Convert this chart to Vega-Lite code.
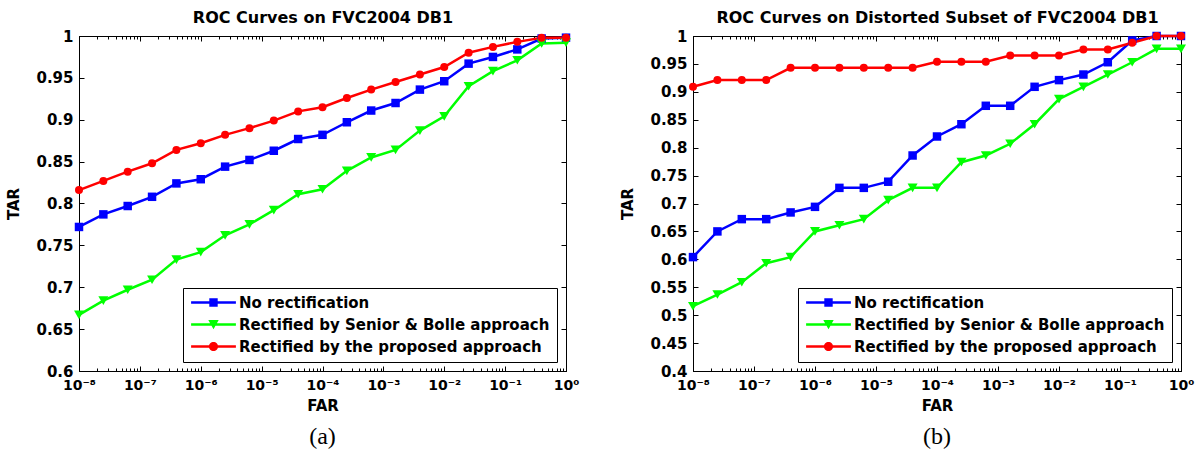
{
  "$schema": "https://vega.github.io/schema/vega-lite/v6.json",
  "background": "white",
  "padding": {"left": 6, "top": 9, "right": 5, "bottom": 5},
  "bounds": "flush",
  "spacing": 127,
  "config": {
    "view": {"stroke": "black", "strokeWidth": 1},
    "axis": {
      "labelFont": "DejaVu Sans", "labelFontWeight": "bold", "labelFontSize": 15, "labelColor": "black",
      "titleFont": "DejaVu Sans", "titleFontWeight": "bold", "titleFontSize": 15, "titleColor": "black",
      "domainColor": "black", "tickColor": "black", "grid": false, "labelOverlap": false, "labelFlush": false
    },
    "title": {"font": "Liberation Serif", "fontSize": 24, "fontWeight": "normal", "color": "black"}
  },
  "datasets": {
    "a": [
      {"far": 1e-8, "series": "No rectification", "tar": 0.772},
      {"far": 2.512e-8, "series": "No rectification", "tar": 0.787},
      {"far": 6.31e-8, "series": "No rectification", "tar": 0.797},
      {"far": 1.585e-7, "series": "No rectification", "tar": 0.808},
      {"far": 3.981e-7, "series": "No rectification", "tar": 0.824},
      {"far": 1e-6, "series": "No rectification", "tar": 0.829},
      {"far": 2.512e-6, "series": "No rectification", "tar": 0.844},
      {"far": 6.31e-6, "series": "No rectification", "tar": 0.852},
      {"far": 1.585e-5, "series": "No rectification", "tar": 0.863},
      {"far": 3.981e-5, "series": "No rectification", "tar": 0.877},
      {"far": 1e-4, "series": "No rectification", "tar": 0.882},
      {"far": 2.512e-4, "series": "No rectification", "tar": 0.897},
      {"far": 6.31e-4, "series": "No rectification", "tar": 0.911},
      {"far": 1.585e-3, "series": "No rectification", "tar": 0.920},
      {"far": 3.981e-3, "series": "No rectification", "tar": 0.936},
      {"far": 0.01, "series": "No rectification", "tar": 0.946},
      {"far": 0.02512, "series": "No rectification", "tar": 0.967},
      {"far": 0.0631, "series": "No rectification", "tar": 0.975},
      {"far": 0.1585, "series": "No rectification", "tar": 0.984},
      {"far": 0.3981, "series": "No rectification", "tar": 0.997},
      {"far": 1, "series": "No rectification", "tar": 0.998},
      {"far": 1e-8, "series": "Rectified by Senior & Bolle approach", "tar": 0.667},
      {"far": 2.512e-8, "series": "Rectified by Senior & Bolle approach", "tar": 0.684},
      {"far": 6.31e-8, "series": "Rectified by Senior & Bolle approach", "tar": 0.697},
      {"far": 1.585e-7, "series": "Rectified by Senior & Bolle approach", "tar": 0.709},
      {"far": 3.981e-7, "series": "Rectified by Senior & Bolle approach", "tar": 0.733},
      {"far": 1e-6, "series": "Rectified by Senior & Bolle approach", "tar": 0.742},
      {"far": 2.512e-6, "series": "Rectified by Senior & Bolle approach", "tar": 0.762},
      {"far": 6.31e-6, "series": "Rectified by Senior & Bolle approach", "tar": 0.775},
      {"far": 1.585e-5, "series": "Rectified by Senior & Bolle approach", "tar": 0.792},
      {"far": 3.981e-5, "series": "Rectified by Senior & Bolle approach", "tar": 0.811},
      {"far": 1e-4, "series": "Rectified by Senior & Bolle approach", "tar": 0.817},
      {"far": 2.512e-4, "series": "Rectified by Senior & Bolle approach", "tar": 0.839},
      {"far": 6.31e-4, "series": "Rectified by Senior & Bolle approach", "tar": 0.855},
      {"far": 1.585e-3, "series": "Rectified by Senior & Bolle approach", "tar": 0.864},
      {"far": 3.981e-3, "series": "Rectified by Senior & Bolle approach", "tar": 0.887},
      {"far": 0.01, "series": "Rectified by Senior & Bolle approach", "tar": 0.904},
      {"far": 0.02512, "series": "Rectified by Senior & Bolle approach", "tar": 0.940},
      {"far": 0.0631, "series": "Rectified by Senior & Bolle approach", "tar": 0.958},
      {"far": 0.1585, "series": "Rectified by Senior & Bolle approach", "tar": 0.971},
      {"far": 0.3981, "series": "Rectified by Senior & Bolle approach", "tar": 0.991},
      {"far": 1, "series": "Rectified by Senior & Bolle approach", "tar": 0.992},
      {"far": 1e-8, "series": "Rectified by the proposed approach", "tar": 0.816},
      {"far": 2.512e-8, "series": "Rectified by the proposed approach", "tar": 0.827},
      {"far": 6.31e-8, "series": "Rectified by the proposed approach", "tar": 0.838},
      {"far": 1.585e-7, "series": "Rectified by the proposed approach", "tar": 0.848},
      {"far": 3.981e-7, "series": "Rectified by the proposed approach", "tar": 0.864},
      {"far": 1e-6, "series": "Rectified by the proposed approach", "tar": 0.872},
      {"far": 2.512e-6, "series": "Rectified by the proposed approach", "tar": 0.882},
      {"far": 6.31e-6, "series": "Rectified by the proposed approach", "tar": 0.890},
      {"far": 1.585e-5, "series": "Rectified by the proposed approach", "tar": 0.899},
      {"far": 3.981e-5, "series": "Rectified by the proposed approach", "tar": 0.910},
      {"far": 1e-4, "series": "Rectified by the proposed approach", "tar": 0.915},
      {"far": 2.512e-4, "series": "Rectified by the proposed approach", "tar": 0.926},
      {"far": 6.31e-4, "series": "Rectified by the proposed approach", "tar": 0.936},
      {"far": 1.585e-3, "series": "Rectified by the proposed approach", "tar": 0.945},
      {"far": 3.981e-3, "series": "Rectified by the proposed approach", "tar": 0.954},
      {"far": 0.01, "series": "Rectified by the proposed approach", "tar": 0.963},
      {"far": 0.02512, "series": "Rectified by the proposed approach", "tar": 0.980},
      {"far": 0.0631, "series": "Rectified by the proposed approach", "tar": 0.987},
      {"far": 0.1585, "series": "Rectified by the proposed approach", "tar": 0.993},
      {"far": 0.3981, "series": "Rectified by the proposed approach", "tar": 0.998},
      {"far": 1, "series": "Rectified by the proposed approach", "tar": 0.998}
    ],
    "b": [
      {"far": 1e-8, "series": "No rectification", "tar": 0.604},
      {"far": 2.512e-8, "series": "No rectification", "tar": 0.650},
      {"far": 6.31e-8, "series": "No rectification", "tar": 0.672},
      {"far": 1.585e-7, "series": "No rectification", "tar": 0.672},
      {"far": 3.981e-7, "series": "No rectification", "tar": 0.684},
      {"far": 1e-6, "series": "No rectification", "tar": 0.694},
      {"far": 2.512e-6, "series": "No rectification", "tar": 0.728},
      {"far": 6.31e-6, "series": "No rectification", "tar": 0.728},
      {"far": 1.585e-5, "series": "No rectification", "tar": 0.739},
      {"far": 3.981e-5, "series": "No rectification", "tar": 0.786},
      {"far": 1e-4, "series": "No rectification", "tar": 0.820},
      {"far": 2.512e-4, "series": "No rectification", "tar": 0.842},
      {"far": 6.31e-4, "series": "No rectification", "tar": 0.875},
      {"far": 1.585e-3, "series": "No rectification", "tar": 0.875},
      {"far": 3.981e-3, "series": "No rectification", "tar": 0.909},
      {"far": 0.01, "series": "No rectification", "tar": 0.921},
      {"far": 0.02512, "series": "No rectification", "tar": 0.931},
      {"far": 0.0631, "series": "No rectification", "tar": 0.953},
      {"far": 0.1585, "series": "No rectification", "tar": 0.992},
      {"far": 0.3981, "series": "No rectification", "tar": 1.0},
      {"far": 1, "series": "No rectification", "tar": 1.0},
      {"far": 1e-8, "series": "Rectified by Senior & Bolle approach", "tar": 0.516},
      {"far": 2.512e-8, "series": "Rectified by Senior & Bolle approach", "tar": 0.537},
      {"far": 6.31e-8, "series": "Rectified by Senior & Bolle approach", "tar": 0.559},
      {"far": 1.585e-7, "series": "Rectified by Senior & Bolle approach", "tar": 0.593},
      {"far": 3.981e-7, "series": "Rectified by Senior & Bolle approach", "tar": 0.604},
      {"far": 1e-6, "series": "Rectified by Senior & Bolle approach", "tar": 0.650},
      {"far": 2.512e-6, "series": "Rectified by Senior & Bolle approach", "tar": 0.661},
      {"far": 6.31e-6, "series": "Rectified by Senior & Bolle approach", "tar": 0.672},
      {"far": 1.585e-5, "series": "Rectified by Senior & Bolle approach", "tar": 0.706},
      {"far": 3.981e-5, "series": "Rectified by Senior & Bolle approach", "tar": 0.728},
      {"far": 1e-4, "series": "Rectified by Senior & Bolle approach", "tar": 0.728},
      {"far": 2.512e-4, "series": "Rectified by Senior & Bolle approach", "tar": 0.774},
      {"far": 6.31e-4, "series": "Rectified by Senior & Bolle approach", "tar": 0.786},
      {"far": 1.585e-3, "series": "Rectified by Senior & Bolle approach", "tar": 0.807},
      {"far": 3.981e-3, "series": "Rectified by Senior & Bolle approach", "tar": 0.842},
      {"far": 0.01, "series": "Rectified by Senior & Bolle approach", "tar": 0.887},
      {"far": 0.02512, "series": "Rectified by Senior & Bolle approach", "tar": 0.909},
      {"far": 0.0631, "series": "Rectified by Senior & Bolle approach", "tar": 0.931},
      {"far": 0.1585, "series": "Rectified by Senior & Bolle approach", "tar": 0.953},
      {"far": 0.3981, "series": "Rectified by Senior & Bolle approach", "tar": 0.977},
      {"far": 1, "series": "Rectified by Senior & Bolle approach", "tar": 0.977},
      {"far": 1e-8, "series": "Rectified by the proposed approach", "tar": 0.909},
      {"far": 2.512e-8, "series": "Rectified by the proposed approach", "tar": 0.921},
      {"far": 6.31e-8, "series": "Rectified by the proposed approach", "tar": 0.921},
      {"far": 1.585e-7, "series": "Rectified by the proposed approach", "tar": 0.921},
      {"far": 3.981e-7, "series": "Rectified by the proposed approach", "tar": 0.943},
      {"far": 1e-6, "series": "Rectified by the proposed approach", "tar": 0.943},
      {"far": 2.512e-6, "series": "Rectified by the proposed approach", "tar": 0.943},
      {"far": 6.31e-6, "series": "Rectified by the proposed approach", "tar": 0.943},
      {"far": 1.585e-5, "series": "Rectified by the proposed approach", "tar": 0.943},
      {"far": 3.981e-5, "series": "Rectified by the proposed approach", "tar": 0.943},
      {"far": 1e-4, "series": "Rectified by the proposed approach", "tar": 0.954},
      {"far": 2.512e-4, "series": "Rectified by the proposed approach", "tar": 0.954},
      {"far": 6.31e-4, "series": "Rectified by the proposed approach", "tar": 0.954},
      {"far": 1.585e-3, "series": "Rectified by the proposed approach", "tar": 0.965},
      {"far": 3.981e-3, "series": "Rectified by the proposed approach", "tar": 0.965},
      {"far": 0.01, "series": "Rectified by the proposed approach", "tar": 0.965},
      {"far": 0.02512, "series": "Rectified by the proposed approach", "tar": 0.976},
      {"far": 0.0631, "series": "Rectified by the proposed approach", "tar": 0.976},
      {"far": 0.1585, "series": "Rectified by the proposed approach", "tar": 0.988},
      {"far": 0.3981, "series": "Rectified by the proposed approach", "tar": 1.0},
      {"far": 1, "series": "Rectified by the proposed approach", "tar": 1.0}
    ]
  },
  "hconcat": [
    {
      "width": 487,
      "height": 335,
      "data": {"name": "a"},
      "title": {"text": "(a)", "orient": "bottom", "frame": "group", "anchor": "middle", "offset": 12},
      "layer": [
        {
          "transform": [{"filter": "datum.series == 'No rectification'"}],
          "mark": {"type": "line", "strokeWidth": 2.5, "color": "#0000ff"},
          "encoding": {
            "x": {"field": "far", "type": "quantitative", "scale": {"type": "log", "domain": [1e-8, 1], "nice": false},
              "axis": {"orient": "bottom", "title": "FAR", "titlePadding": 4, "labelFontSize": 14, "labelPadding": 12,
                "values": [1e-8,2e-8,3e-8,4e-8,5e-8,6e-8,7e-8,8e-8,9e-8,1e-7,2e-7,3e-7,4e-7,5e-7,6e-7,7e-7,8e-7,9e-7,1e-6,2e-6,3e-6,4e-6,5e-6,6e-6,7e-6,8e-6,9e-6,1e-5,2e-5,3e-5,4e-5,5e-5,6e-5,7e-5,8e-5,9e-5,1e-4,2e-4,3e-4,4e-4,5e-4,6e-4,7e-4,8e-4,9e-4,1e-3,2e-3,3e-3,4e-3,5e-3,6e-3,7e-3,8e-3,9e-3,0.01,0.02,0.03,0.04,0.05,0.06,0.07,0.08,0.09,0.1,0.2,0.3,0.4,0.5,0.6,0.7,0.8,0.9,1],
                "tickSize": {"condition": {"test": "abs(log(datum.value)/LN10 - round(log(datum.value)/LN10)) < 0.001", "value": -5}, "value": -3},
                "labelExpr": "abs(log(datum.value)/LN10 - round(log(datum.value)/LN10)) < 0.001 ? '10' + (round(log(datum.value)/LN10) < 0 ? '⁻' : '') + ['⁰','¹','²','³','⁴','⁵','⁶','⁷','⁸','⁹'][abs(round(log(datum.value)/LN10))] : ''"}},
            "y": {"field": "tar", "type": "quantitative", "scale": {"domain": [0.6, 1], "nice": false, "zero": false},
              "axis": {"orient": "left", "title": "TAR", "titlePadding": 14, "tickSize": -5, "labelPadding": 11,
                "values": [0.6,0.65,0.7,0.75,0.8,0.85,0.9,0.95,1], "labelExpr": "'' + datum.value"}}
          }
        },
        {
          "transform": [{"filter": "datum.series == 'Rectified by Senior & Bolle approach'"}],
          "mark": {"type": "line", "strokeWidth": 2.5, "color": "#00ff00"},
          "encoding": {
            "x": {"field": "far", "type": "quantitative", "axis": null},
            "y": {"field": "tar", "type": "quantitative", "axis": null}
          }
        },
        {
          "transform": [{"filter": "datum.series == 'Rectified by the proposed approach'"}],
          "mark": {"type": "line", "strokeWidth": 2.5, "color": "#ff0000"},
          "encoding": {
            "x": {"field": "far", "type": "quantitative", "axis": null},
            "y": {"field": "tar", "type": "quantitative", "axis": null}
          }
        },
        {
          "transform": [{"filter": "datum.series == 'No rectification'"}],
          "mark": {"type": "point", "shape": "square", "filled": true, "size": 72, "color": "#0000ff", "opacity": 1},
          "encoding": {
            "x": {"field": "far", "type": "quantitative",
              "axis": {"orient": "top", "labels": false, "title": "ROC Curves on FVC2004 DB1", "titlePadding": 10, "titleFontSize": 16,
                "values": [1e-8,2e-8,3e-8,4e-8,5e-8,6e-8,7e-8,8e-8,9e-8,1e-7,2e-7,3e-7,4e-7,5e-7,6e-7,7e-7,8e-7,9e-7,1e-6,2e-6,3e-6,4e-6,5e-6,6e-6,7e-6,8e-6,9e-6,1e-5,2e-5,3e-5,4e-5,5e-5,6e-5,7e-5,8e-5,9e-5,1e-4,2e-4,3e-4,4e-4,5e-4,6e-4,7e-4,8e-4,9e-4,1e-3,2e-3,3e-3,4e-3,5e-3,6e-3,7e-3,8e-3,9e-3,0.01,0.02,0.03,0.04,0.05,0.06,0.07,0.08,0.09,0.1,0.2,0.3,0.4,0.5,0.6,0.7,0.8,0.9,1],
                "tickSize": {"condition": {"test": "abs(log(datum.value)/LN10 - round(log(datum.value)/LN10)) < 0.001", "value": -5}, "value": -3}}},
            "y": {"field": "tar", "type": "quantitative",
              "axis": {"orient": "right", "labels": false, "title": null, "tickSize": -5,
                "values": [0.6,0.65,0.7,0.75,0.8,0.85,0.9,0.95,1]}}
          }
        },
        {
          "transform": [{"filter": "datum.series == 'Rectified by Senior & Bolle approach'"}],
          "mark": {"type": "point", "shape": "triangle-down", "filled": true, "size": 100, "color": "#00ff00", "opacity": 1},
          "encoding": {
            "x": {"field": "far", "type": "quantitative", "axis": null},
            "y": {"field": "tar", "type": "quantitative", "axis": null}
          }
        },
        {
          "transform": [{"filter": "datum.series == 'Rectified by the proposed approach'"}],
          "mark": {"type": "point", "shape": "circle", "filled": true, "size": 64, "color": "#ff0000", "opacity": 1},
          "encoding": {
            "x": {"field": "far", "type": "quantitative", "axis": null},
            "y": {"field": "tar", "type": "quantitative", "axis": null}
          }
        },
        {
          "mark": {"type": "point", "filled": true, "opacity": 0},
          "encoding": {
            "x": {"field": "far", "type": "quantitative", "axis": null},
            "y": {"field": "tar", "type": "quantitative", "axis": null},
            "color": {"field": "series", "type": "nominal",
              "scale": {"domain": ["No rectification", "Rectified by Senior & Bolle approach", "Rectified by the proposed approach"], "range": ["#0000ff", "#00ff00", "#ff0000"]},
              "legend": {"orient": "bottom-right", "offset": 9, "title": null, "strokeColor": "black", "fillColor": "white", "padding": 7,
                "symbolOpacity": 1, "symbolSize": 64, "symbolStrokeWidth": 0, "symbolOffset": 16, "labelOffset": 18, "rowPadding": 6, "labelLimit": 0,
                "labelFont": "DejaVu Sans", "labelFontWeight": "bold", "labelFontSize": 15, "labelColor": "black", "cornerRadius": 0,
                "encode": {"symbols": {"update": {"opacity": {"value": 1}, "fillOpacity": {"value": 1}}}}}},
            "shape": {"field": "series", "type": "nominal",
              "scale": {"domain": ["No rectification", "Rectified by Senior & Bolle approach", "Rectified by the proposed approach"],
                "range": ["M-5.6,-0.32H5.6V0.32H-5.6Z M-1.05,-1.05H1.05V1.05H-1.05Z", "M-5.6,-0.32H5.6V0.32H-5.6Z M-1.3,-1.1L1.3,-1.1L0,1.2Z", "M-5.6,-0.32H5.6V0.32H-5.6Z M-1.15,0A1.15,1.15,0,1,1,1.15,0A1.15,1.15,0,1,1,-1.15,0Z"]}}
          }
        }
      ],
      "resolve": {"axis": {"x": "independent", "y": "independent"}}
    },
    {
      "width": 488,
      "height": 335,
      "data": {"name": "b"},
      "title": {"text": "(b)", "orient": "bottom", "frame": "group", "anchor": "middle", "offset": 12},
      "layer": [
        {
          "transform": [{"filter": "datum.series == 'No rectification'"}],
          "mark": {"type": "line", "strokeWidth": 2.5, "color": "#0000ff"},
          "encoding": {
            "x": {"field": "far", "type": "quantitative", "scale": {"type": "log", "domain": [1e-8, 1], "nice": false},
              "axis": {"orient": "bottom", "title": "FAR", "titlePadding": 4, "labelFontSize": 14, "labelPadding": 12,
                "values": [1e-8,2e-8,3e-8,4e-8,5e-8,6e-8,7e-8,8e-8,9e-8,1e-7,2e-7,3e-7,4e-7,5e-7,6e-7,7e-7,8e-7,9e-7,1e-6,2e-6,3e-6,4e-6,5e-6,6e-6,7e-6,8e-6,9e-6,1e-5,2e-5,3e-5,4e-5,5e-5,6e-5,7e-5,8e-5,9e-5,1e-4,2e-4,3e-4,4e-4,5e-4,6e-4,7e-4,8e-4,9e-4,1e-3,2e-3,3e-3,4e-3,5e-3,6e-3,7e-3,8e-3,9e-3,0.01,0.02,0.03,0.04,0.05,0.06,0.07,0.08,0.09,0.1,0.2,0.3,0.4,0.5,0.6,0.7,0.8,0.9,1],
                "tickSize": {"condition": {"test": "abs(log(datum.value)/LN10 - round(log(datum.value)/LN10)) < 0.001", "value": -5}, "value": -3},
                "labelExpr": "abs(log(datum.value)/LN10 - round(log(datum.value)/LN10)) < 0.001 ? '10' + (round(log(datum.value)/LN10) < 0 ? '⁻' : '') + ['⁰','¹','²','³','⁴','⁵','⁶','⁷','⁸','⁹'][abs(round(log(datum.value)/LN10))] : ''"}},
            "y": {"field": "tar", "type": "quantitative", "scale": {"domain": [0.4, 1], "nice": false, "zero": false},
              "axis": {"orient": "left", "title": "TAR", "titlePadding": 14, "tickSize": -5, "labelPadding": 11,
                "values": [0.4,0.45,0.5,0.55,0.6,0.65,0.7,0.75,0.8,0.85,0.9,0.95,1], "labelExpr": "'' + datum.value"}}
          }
        },
        {
          "transform": [{"filter": "datum.series == 'Rectified by Senior & Bolle approach'"}],
          "mark": {"type": "line", "strokeWidth": 2.5, "color": "#00ff00"},
          "encoding": {
            "x": {"field": "far", "type": "quantitative", "axis": null},
            "y": {"field": "tar", "type": "quantitative", "axis": null}
          }
        },
        {
          "transform": [{"filter": "datum.series == 'Rectified by the proposed approach'"}],
          "mark": {"type": "line", "strokeWidth": 2.5, "color": "#ff0000"},
          "encoding": {
            "x": {"field": "far", "type": "quantitative", "axis": null},
            "y": {"field": "tar", "type": "quantitative", "axis": null}
          }
        },
        {
          "transform": [{"filter": "datum.series == 'No rectification'"}],
          "mark": {"type": "point", "shape": "square", "filled": true, "size": 72, "color": "#0000ff", "opacity": 1},
          "encoding": {
            "x": {"field": "far", "type": "quantitative",
              "axis": {"orient": "top", "labels": false, "title": "ROC Curves on Distorted Subset of FVC2004 DB1", "titlePadding": 10, "titleFontSize": 16,
                "values": [1e-8,2e-8,3e-8,4e-8,5e-8,6e-8,7e-8,8e-8,9e-8,1e-7,2e-7,3e-7,4e-7,5e-7,6e-7,7e-7,8e-7,9e-7,1e-6,2e-6,3e-6,4e-6,5e-6,6e-6,7e-6,8e-6,9e-6,1e-5,2e-5,3e-5,4e-5,5e-5,6e-5,7e-5,8e-5,9e-5,1e-4,2e-4,3e-4,4e-4,5e-4,6e-4,7e-4,8e-4,9e-4,1e-3,2e-3,3e-3,4e-3,5e-3,6e-3,7e-3,8e-3,9e-3,0.01,0.02,0.03,0.04,0.05,0.06,0.07,0.08,0.09,0.1,0.2,0.3,0.4,0.5,0.6,0.7,0.8,0.9,1],
                "tickSize": {"condition": {"test": "abs(log(datum.value)/LN10 - round(log(datum.value)/LN10)) < 0.001", "value": -5}, "value": -3}}},
            "y": {"field": "tar", "type": "quantitative",
              "axis": {"orient": "right", "labels": false, "title": null, "tickSize": -5,
                "values": [0.4,0.45,0.5,0.55,0.6,0.65,0.7,0.75,0.8,0.85,0.9,0.95,1]}}
          }
        },
        {
          "transform": [{"filter": "datum.series == 'Rectified by Senior & Bolle approach'"}],
          "mark": {"type": "point", "shape": "triangle-down", "filled": true, "size": 100, "color": "#00ff00", "opacity": 1},
          "encoding": {
            "x": {"field": "far", "type": "quantitative", "axis": null},
            "y": {"field": "tar", "type": "quantitative", "axis": null}
          }
        },
        {
          "transform": [{"filter": "datum.series == 'Rectified by the proposed approach'"}],
          "mark": {"type": "point", "shape": "circle", "filled": true, "size": 64, "color": "#ff0000", "opacity": 1},
          "encoding": {
            "x": {"field": "far", "type": "quantitative", "axis": null},
            "y": {"field": "tar", "type": "quantitative", "axis": null}
          }
        },
        {
          "mark": {"type": "point", "filled": true, "opacity": 0},
          "encoding": {
            "x": {"field": "far", "type": "quantitative", "axis": null},
            "y": {"field": "tar", "type": "quantitative", "axis": null},
            "color": {"field": "series", "type": "nominal",
              "scale": {"domain": ["No rectification", "Rectified by Senior & Bolle approach", "Rectified by the proposed approach"], "range": ["#0000ff", "#00ff00", "#ff0000"]},
              "legend": {"orient": "bottom-right", "offset": 9, "title": null, "strokeColor": "black", "fillColor": "white", "padding": 7,
                "symbolOpacity": 1, "symbolSize": 64, "symbolStrokeWidth": 0, "symbolOffset": 16, "labelOffset": 18, "rowPadding": 6, "labelLimit": 0,
                "labelFont": "DejaVu Sans", "labelFontWeight": "bold", "labelFontSize": 15, "labelColor": "black", "cornerRadius": 0,
                "encode": {"symbols": {"update": {"opacity": {"value": 1}, "fillOpacity": {"value": 1}}}}}},
            "shape": {"field": "series", "type": "nominal",
              "scale": {"domain": ["No rectification", "Rectified by Senior & Bolle approach", "Rectified by the proposed approach"],
                "range": ["M-5.6,-0.32H5.6V0.32H-5.6Z M-1.05,-1.05H1.05V1.05H-1.05Z", "M-5.6,-0.32H5.6V0.32H-5.6Z M-1.3,-1.1L1.3,-1.1L0,1.2Z", "M-5.6,-0.32H5.6V0.32H-5.6Z M-1.15,0A1.15,1.15,0,1,1,1.15,0A1.15,1.15,0,1,1,-1.15,0Z"]}}
          }
        }
      ],
      "resolve": {"axis": {"x": "independent", "y": "independent"}}
    }
  ],
  "resolve": {
    "scale": {"x": "independent", "y": "independent", "color": "independent", "shape": "independent"},
    "legend": {"color": "independent", "shape": "independent"}
  }
}
